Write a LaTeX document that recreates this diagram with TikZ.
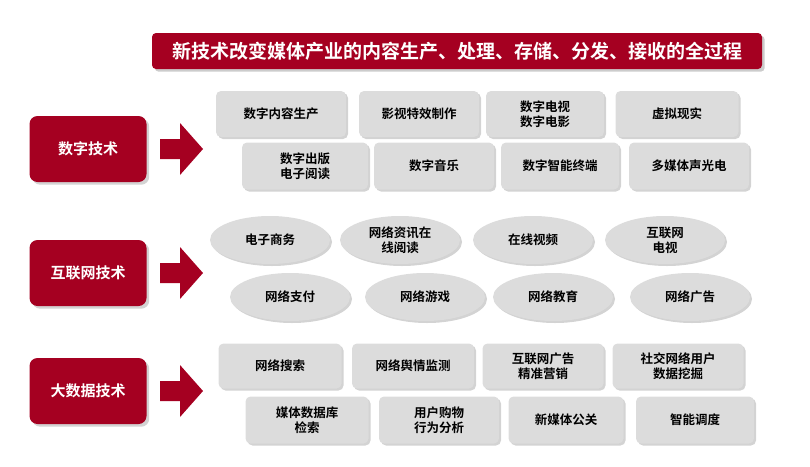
\documentclass[tikz,border=0pt]{standalone}
\usepackage{fontspec}
\setmainfont{Noto Sans CJK SC}[BoldFont={* Bold}]
\usetikzlibrary{shadows,shapes.geometric}
\definecolor{dred}{HTML}{A50021}
\definecolor{gbox}{HTML}{DCDCDC}
\begin{document}
\begin{tikzpicture}[x=1pt,y=-1pt,
 gb/.style={fill=gbox,rounded corners=5pt,drop shadow={opacity=0.35,shadow xshift=2pt,shadow yshift=-2pt},font=\bfseries\fontsize{12.5}{15}\selectfont,align=center,inner sep=0pt},
 ge/.style={ellipse,fill=gbox,drop shadow={opacity=0.35,shadow xshift=2pt,shadow yshift=-2pt},font=\bfseries\fontsize{12.5}{15}\selectfont,align=center,minimum width=120pt,minimum height=48pt,inner sep=0pt},
 rb/.style={fill=dred,rounded corners=8pt,text=white,font=\bfseries\fontsize{15}{17}\selectfont,minimum width=117pt,minimum height=66pt,drop shadow={opacity=0.35}},
 ar/.style={fill=dred}]
\useasboundingbox (0,0) rectangle (810,466);
\node[fill=dred,rounded corners=4pt,text=white,font=\bfseries\fontsize{19}{21}\selectfont,minimum width=610pt,minimum height=36pt,drop shadow={opacity=0.4}] (t) at (457,51) {新技术改变媒体产业的内容生产、处理、存储、分发、接收的全过程};
\node[rb] (l1) at (88,149) {数字技术};
\node[rb] (l2) at (88,273) {互联网技术};
\node[rb] (l3) at (88,391) {大数据技术};
\foreach \y/\n in {149/a1,273/a2,391/a3}{
 \fill[ar] (160,\y-10) -- (180,\y-10) -- (180,\y-26) -- (203,\y) -- (180,\y+26) -- (180,\y+10) -- (160,\y+10) -- cycle;
 \coordinate (\n) at (180,\y);}
\newcommand\gbx[6]{\node[gb,minimum width=#3pt,minimum height=#4pt] (#5) at (#1,#2) {#6};}
\gbx{281}{114}{130}{46}{b1}{数字内容生产}
\gbx{419}{114}{120}{46}{b2}{影视特效制作}
\gbx{545}{114}{118}{46}{b3}{数字电视\\数字电影}
\gbx{677}{114}{123}{46}{b4}{虚拟现实}
\gbx{305}{166}{126}{47}{b5}{数字出版\\电子阅读}
\gbx{434}{166}{120}{47}{b6}{数字音乐}
\gbx{560}{166}{118}{47}{b7}{数字智能终端}
\gbx{689}{166}{120}{47}{b8}{多媒体声光电}
\node[ge] (e1) at (270,240) {电子商务};
\node[ge] (e2) at (400,240) {网络资讯在\\线阅读};
\node[ge] (e3) at (533,240) {在线视频};
\node[ge] (e4) at (665,240) {互联网\\电视};
\node[ge] (e5) at (290,297) {网络支付};
\node[ge] (e6) at (425,297) {网络游戏};
\node[ge] (e7) at (553,297) {网络教育};
\node[ge] (e8) at (690,297) {网络广告};
\gbx{280}{366}{123}{45}{c1}{网络搜索}
\gbx{413}{366}{122}{45}{c2}{网络舆情监测}
\gbx{543}{366}{121}{45}{c3}{互联网广告\\精准营销}
\gbx{678}{366}{131}{45}{c4}{社交网络用户\\数据挖掘}
\gbx{307}{420}{123}{47}{c5}{媒体数据库\\检索}
\gbx{439}{420}{120}{47}{c6}{用户购物\\行为分析}
\gbx{566}{420}{115}{47}{c7}{新媒体公关}
\gbx{695}{420}{118}{47}{c8}{智能调度}
\end{tikzpicture}
\end{document}
